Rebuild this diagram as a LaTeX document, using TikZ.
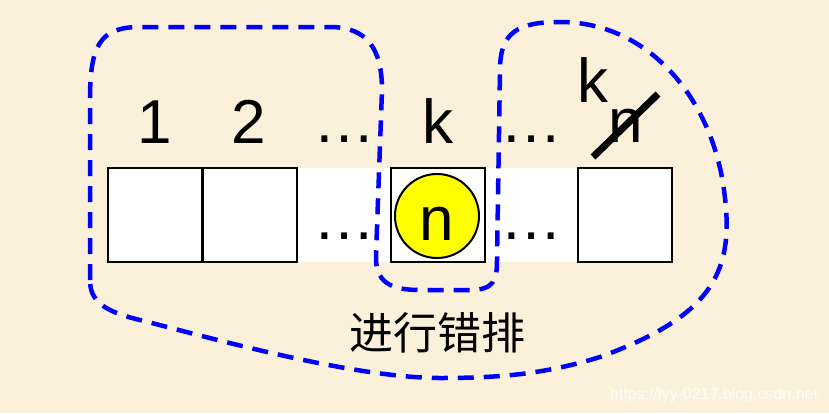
\documentclass[tikz,border=0pt]{standalone}
\usepackage{fontspec}
\setmainfont{Liberation Sans}
\newfontfamily\cjk{Noto Sans CJK SC}
\definecolor{bgc}{RGB}{251,241,218}
\definecolor{dashblue}{RGB}{0,0,255}
\definecolor{cyel}{RGB}{255,255,0}
\begin{document}
\begin{tikzpicture}[x=1pt,y=-1pt,
  cell/.style={draw=black,line width=2pt,fill=white},
  lbl/.style={inner sep=0pt,anchor=base,font=\fontsize{62}{62}\selectfont},
  grp/.style={draw=dashblue,line width=4.5pt,dash pattern=on 16pt off 10pt}]
\fill[bgc] (0,0) rectangle (829,413);
\useasboundingbox (0,0) rectangle (829,413);
% white band
\fill[white] (108,168) rectangle (672,262);
% cells
\node[cell,minimum width=94pt,minimum height=94pt,inner sep=0pt] (c1) at (155,215) {};
\node[cell,minimum width=94pt,minimum height=94pt,inner sep=0pt] (c2) at (249.5,215) {};
\node[cell,minimum width=94pt,minimum height=94pt,inner sep=0pt] (ck) at (437.5,215) {};
\node[cell,minimum width=94pt,minimum height=94pt,inner sep=0pt] (cn) at (625,215) {};
\node[circle,draw=black,line width=2pt,fill=cyel,minimum size=84pt,inner sep=0pt] (circ) at (437,216) {};
\node[lbl] (nin) at (437,240) {n};
% top labels
\node[lbl] (l1) at (155,143) {1};
\node[lbl] (l2) at (249,143) {2};
\node[lbl] (ld1) at (344,142) {…};
\node[lbl] (lk) at (438,143) {k};
\node[lbl] (ld2) at (531,142) {…};
\node[lbl] (lk2) at (593,102) {k};
\node[lbl] (ln2) at (626,142) {n};
\coordinate (sa) at (593,157);
\coordinate (sb) at (658,94);
\draw[line width=7pt] (sa) -- (sb);
% row dots
\node[lbl] (rd1) at (344,239) {…};
\node[lbl] (rd2) at (531,239) {…};
% dashed group outline
\draw[grp] (90,280) -- (90,100) .. controls (90,45) and (100,27) .. (140,27)
  -- (330,27) .. controls (368,27) and (382,50) .. (382,90)
  -- (376,255) .. controls (375,282) and (390,290) .. (420,290)
  -- (470,290) .. controls (494,290) and (497,280) .. (497,260)
  -- (500,70) .. controls (500,32) and (518,22) .. (560,22)
  .. controls (650,22) and (712,100) .. (724,190)
  .. controls (735,270) and (715,315) .. (600,357)
  .. controls (545,374) and (500,378) .. (440,378)
  .. controls (350,378) and (200,335) .. (140,320)
  .. controls (102,311) and (90,300) .. (90,280) -- cycle;
\node[inner sep=0pt,anchor=base,font=\cjk\fontsize{44}{44}\selectfont] (cap) at (437,349) {进行错排};
\node[inner sep=0pt,anchor=base,text=white,opacity=0.85,font=\fontsize{16}{16}\selectfont] (wm) at (714,399) {https://lyy-0217.blog.csdn.net};
\end{tikzpicture}
\end{document}
